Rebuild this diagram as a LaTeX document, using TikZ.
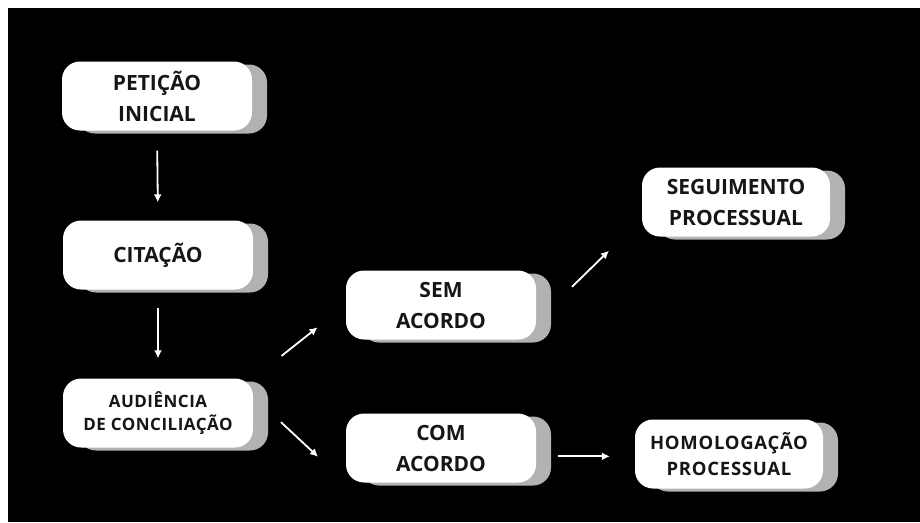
\documentclass[tikz,border=0pt]{standalone}
\usepackage{fontspec}
\setmainfont{Open Sans}
\usetikzlibrary{shadows,arrows.meta}
\definecolor{shadegray}{RGB}{178,178,178}
\definecolor{ink}{RGB}{22,22,22}
\tikzset{
  stage/.style={rectangle, rounded corners=18pt, fill=white, text=ink,
    minimum width=190pt, minimum height=69pt, inner sep=0pt, align=center,
    font=\fontsize{21}{31}\selectfont\bfseries,
    copy shadow={shadow xshift=15pt, shadow yshift=-3pt, fill=shadegray, draw=none}},
  small stage/.style={stage, font=\fontsize{17}{23.5}\selectfont\bfseries\addfontfeature{LetterSpace=3}},
  spaced stage/.style={stage, font=\fontsize{18.5}{26}\selectfont\bfseries\addfontfeature{LetterSpace=4}},
  flow/.style={draw=white, line width=1.8pt, arrows={-{Latex[length=8pt,width=8pt]}}}
}

\begin{document}
\begin{tikzpicture}[x=1pt, y=-1pt]
  \useasboundingbox (0,0) rectangle (920,522);
  \fill[white] (0,0) rectangle (920,522);
  \fill[black] (8,8) rectangle (920,522);

  \node[stage] at (157, 96) (peticao) {PETIÇÃO\\INICIAL};
  \node[stage] at (158,255) (citacao) {CITAÇÃO};
  \node[small stage] at (158,413) (audiencia) {AUDIÊNCIA\\DE CONCILIAÇÃO};

  \node[stage] at (441,305) (sem acordo) {SEM\\ACORDO};
  \node[stage] at (441,448) (com acordo) {COM\\ACORDO};

  \node[stage, minimum width=188pt] at (736,202) (seguimento) {SEGUIMENTO\\PROCESSUAL};
  \node[spaced stage, minimum width=188pt] at (729,454) (homologacao) {HOMOLOGAÇÃO\\PROCESSUAL};

  \draw[flow, shorten <=20pt, shorten >=18pt] (peticao.south) -- (citacao.north);
  \draw[flow, shorten <=18pt, shorten >=20pt] (citacao.south) -- (audiencia.north);
  \draw[flow, shorten <=36pt, shorten >=36pt] (audiencia.north east) -- (sem acordo.west);
  \draw[flow, shorten <=38pt, shorten >=38pt] (audiencia.10) -- (com acordo.south west);
  \draw[flow, shorten <=50pt, shorten >=46pt] (sem acordo.-10) -- (seguimento.190);
  \draw[flow, shorten <=22pt, shorten >=25pt] (com acordo.-5) -- (com acordo.-5 -| homologacao.west);
\end{tikzpicture}
\end{document}
